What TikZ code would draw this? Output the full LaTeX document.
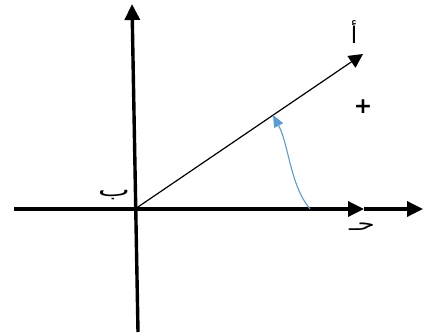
\documentclass[tikz,border=0pt]{standalone}
\usepackage{fontspec}
\newfontfamily\arabicfont[Script=Arabic]{DejaVu Sans}
\newfontfamily\symfont{DejaVu Sans}
\TeXXeTstate=1
\usetikzlibrary{arrows.meta}
\definecolor{arcblue}{HTML}{5B9BD5}
\tikzset{
  axis/.style={line width=3.4pt, -{Triangle[length=16pt,width=15pt]}},
  rayline/.style={line width=1.2pt, -{Triangle[length=14pt,width=14pt]}},
  arcline/.style={draw=arcblue, line width=1.1pt, -{Triangle[length=12pt,width=10pt]}},
  lbl/.style={font=\arabicfont\fontsize{19pt}{22pt}\selectfont, inner sep=0pt}
}
\begin{document}
\begin{tikzpicture}[x=1pt,y=-1pt]
\useasboundingbox (0,0) rectangle (435,332);
\coordinate (O) at (135,209);
\coordinate (ytop) at (132,4);
\coordinate (ybot) at (138,332);
\coordinate (xl) at (14,209);
\coordinate (xm) at (364,209);
\coordinate (xr) at (423,209);
\coordinate (A) at (363,54);
\coordinate (arcs) at (310,209);
\coordinate (arce) at (273,115);
\draw[axis] (ybot) -- (ytop);
\draw[axis] (xl) -- (xm);
\draw[axis] (xm) -- (xr);
\draw[rayline] (O) -- (A);
\draw[arcline] (arcs) .. controls (290,185) and (289,145) .. (arce);
\node[lbl, font=\arabicfont\fontsize{23pt}{26pt}\selectfont] (la) at (354,32) {\beginR أ\endR};
\node[lbl] (lb) at (114,195) {\scalebox{1.8}[1]{\beginR ب\endR}};
\node[lbl] (lc) at (362,227) {\scalebox{1.5}[1]{\beginR حـ\endR}};
\node[font=\symfont\bfseries\fontsize{22pt}{24pt}\selectfont, inner sep=0pt] (plus) at (363,107) {+};
\end{tikzpicture}
\end{document}
